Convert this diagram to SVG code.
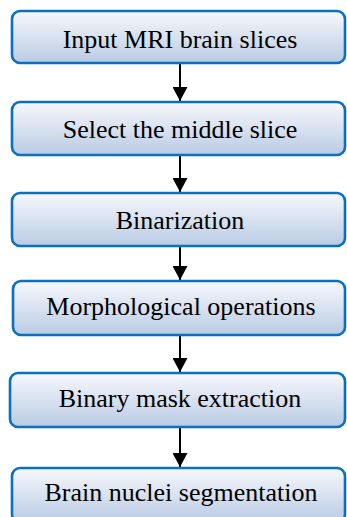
<svg xmlns="http://www.w3.org/2000/svg" width="347" height="517" viewBox="0 0 347 517">
  <defs>
    <linearGradient id="boxFill" x1="0" y1="0" x2="0" y2="1">
      <stop offset="0" stop-color="#f7f8fc"/>
      <stop offset="1" stop-color="#b9cbe4"/>
    </linearGradient>
    <marker id="arrowHead" markerWidth="14" markerHeight="15" refX="14" refY="7.5" orient="auto" markerUnits="userSpaceOnUse">
      <path d="M0,0 L14,7.5 L0,15 Z" fill="#000"/>
    </marker>
    <style>
      .box { fill: url(#boxFill); stroke: #0a70c0; stroke-width: 2.6; }
      .label { font-family: "Liberation Serif", "Times New Roman", serif; font-size: 26px; fill: #000; text-anchor: middle; }
      .link { stroke: #000; stroke-width: 2; fill: none; marker-end: url(#arrowHead); }
    </style>
  </defs>
  <rect width="347" height="517" fill="#fff"/>

  <g id="connectors">
    <line class="link" x1="180" y1="64" x2="180" y2="101"/>
    <line class="link" x1="180" y1="156" x2="180" y2="192"/>
    <line class="link" x1="180" y1="247" x2="180" y2="280"/>
    <line class="link" x1="180" y1="336" x2="180" y2="372"/>
    <line class="link" x1="180" y1="428" x2="180" y2="467"/>
  </g>

  <g id="input-slices">
    <rect class="box" x="12" y="11" width="333" height="52" rx="8"/>
    <text class="label" x="180" y="48">Input MRI brain slices</text>
  </g>
  <g id="select-middle">
    <rect class="box" x="12" y="102" width="333" height="53" rx="8"/>
    <text class="label" x="180" y="138">Select the middle slice</text>
  </g>
  <g id="binarization">
    <rect class="box" x="12" y="193" width="333" height="53" rx="8"/>
    <text class="label" x="180" y="229">Binarization</text>
  </g>
  <g id="morphology">
    <rect class="box" x="13" y="281" width="332" height="54" rx="8"/>
    <text class="label" x="181" y="315">Morphological operations</text>
  </g>
  <g id="mask-extraction">
    <rect class="box" x="10" y="373" width="335" height="54" rx="8"/>
    <text class="label" x="180" y="407">Binary mask extraction</text>
  </g>
  <g id="nuclei-segmentation">
    <rect class="box" x="12" y="468" width="333" height="54" rx="8"/>
    <text class="label" x="181" y="501">Brain nuclei segmentation</text>
  </g>
</svg>
